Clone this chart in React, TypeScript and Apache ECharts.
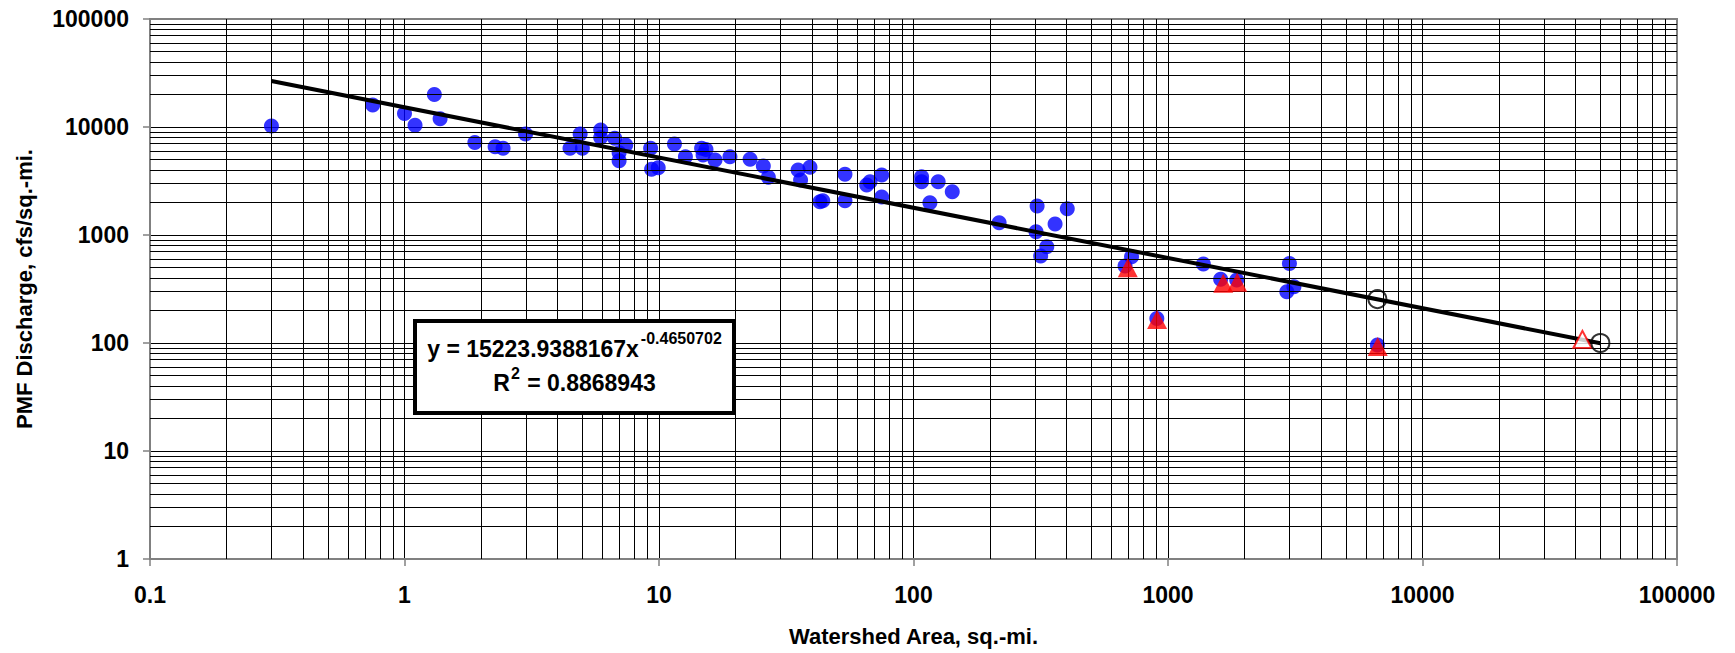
import React, { useEffect, useRef } from 'react';
import * as echarts from 'echarts';

// Watershed area (sq.-mi.) vs PMF discharge (cfs/sq.-mi.)
const blueData: [number, number][] = [
  [0.3, 10200], [0.75, 16000], [1.0, 13300], [1.1, 10400], [1.31, 20000], [1.38, 11900],
  [1.89, 7200], [2.27, 6550], [2.44, 6350], [2.99, 8600], [4.47, 6350], [4.9, 8600],
  [5.0, 6350], [5.9, 9400], [5.9, 8000], [6.7, 7850], [7.4, 6800], [6.97, 5780],
  [6.97, 4870], [9.27, 6350], [9.35, 4060], [9.93, 4200], [11.5, 6970], [12.7, 5300],
  [14.7, 6350], [15.3, 6200], [14.9, 5500], [16.6, 4950], [19.0, 5300], [22.8, 5030],
  [25.7, 4350], [26.9, 3420], [35.2, 4000], [36.0, 3230], [39.2, 4240], [42.9, 2030],
  [44.0, 2080], [53.8, 3650], [53.8, 2080], [65.5, 2900], [67.5, 3120], [75, 3590],
  [75, 2250], [107.6, 3470], [107.6, 3120], [125, 3120], [116, 1990], [142, 2520],
  [217, 1300], [306, 1860], [303, 1070], [360, 1265], [402, 1750], [334, 780],
  [316, 640], [719, 630], [678, 516], [1377, 540], [1610, 389], [1862, 383],
  [904, 169], [3000, 545], [3125, 332], [2930, 298], [6650, 96],
];
const redTriangles: [number, number][] = [
  [695, 497], [906, 165], [1648, 357], [1870, 365], [6670, 93],
];
const openTriangle: [number, number][] = [[42500, 108]];
const openCircles: [number, number][] = [[6650, 255], [50000, 100]];
const trendLine: [number, number][] = [[0.3, 26650], [50000, 99.35]];

const xDecades = [0.1, 1, 10, 100, 1000, 10000];
const yDecades = [1, 10, 100, 1000, 10000];
const minorMultipliers = [2, 3, 4, 5, 6, 7, 8, 9];

const eqMain = 'y = 15223.9388167x';
const eqExp = '-0.4650702';
const r2Lead = 'R';
const r2Exp = '2';
const r2Rest = ' = 0.8868943';

const FONT = '"Liberation Sans", Arial, Helvetica, sans-serif';

const fmt = (v: number) => {
  const n = Number(v);
  if (n < 1) return String(Number(n.toPrecision(3)));
  return String(Math.round(n));
};

const txt = (text: string, x: number, y: number, size: number) => ({
  type: 'text', z: 101, x, y,
  style: {
    text, fill: '#000',
    align: 'left', verticalAlign: 'middle',
    textAlign: 'left', textVerticalAlign: 'middle',
    fontFamily: FONT, fontWeight: 'bold', fontSize: size,
    font: `bold ${size}px ${FONT}`,
  },
});

export default function App() {
  const ref = useRef<HTMLDivElement>(null);
  useEffect(() => {
    if (!ref.current) return;
    const chart = echarts.init(ref.current, undefined, { renderer: 'svg' });
    const gridLines: any[] = [];
    xDecades.forEach((d) => minorMultipliers.forEach((m) => gridLines.push({ xAxis: d * m })));
    yDecades.forEach((d) => minorMultipliers.forEach((m) => gridLines.push({ yAxis: d * m })));

    const labelStyle = { fontSize: 23, fontWeight: 'bold' as const, color: '#000', fontFamily: FONT };
    const nameStyle = { fontSize: 22, fontWeight: 'bold' as const, color: '#000', fontFamily: FONT };

    // text widths (Arial/Liberation Sans Bold metrics) for centring the equation in the box
    const big = 23;
    const small = 16;
    const boxCx = 574.5;
    const w1 = 9.202 * big;
    const w1s = 5.059 * small;
    const start1 = boxCx - (w1 + 2 + w1s) / 2;
    const wR = 0.722 * big;
    const w2s = 0.556 * small;
    const wRest = 5.866 * big;
    const start2 = boxCx - (wR + 1 + w2s + 1 + wRest) / 2;

    chart.setOption({
      animation: false,
      backgroundColor: '#fff',
      grid: {
        left: 150, right: 58, top: 19, bottom: 94,
        show: true, borderColor: '#808080', borderWidth: 2, backgroundColor: '#fff',
      },
      xAxis: {
        type: 'log', logBase: 10, min: 0.1, max: 100000,
        name: 'Watershed Area, sq.-mi.', nameLocation: 'middle', nameGap: 66,
        nameTextStyle: nameStyle,
        axisLine: { show: true, lineStyle: { color: '#808080', width: 2 } },
        axisTick: { show: true, length: 7, lineStyle: { color: '#808080', width: 1.5 } },
        axisLabel: { ...labelStyle, margin: 24, formatter: fmt },
        splitLine: { show: true, showMinLine: false, showMaxLine: false, lineStyle: { color: '#000', width: 1 } },
      },
      yAxis: {
        type: 'log', logBase: 10, min: 1, max: 100000,
        name: 'PMF Discharge, cfs/sq.-mi.', nameLocation: 'middle', nameGap: 115,
        nameTextStyle: nameStyle,
        axisLine: { show: true, lineStyle: { color: '#808080', width: 2 } },
        axisTick: { show: true, length: 7, lineStyle: { color: '#808080', width: 1.5 } },
        axisLabel: { ...labelStyle, margin: 21, formatter: fmt },
        splitLine: { show: true, showMinLine: false, showMaxLine: false, lineStyle: { color: '#000', width: 1 } },
      },
      series: [
        {
          type: 'scatter', data: [], z: 1, silent: true,
          markLine: {
            silent: true, symbol: ['none', 'none'], animation: false,
            label: { show: false },
            lineStyle: { color: '#000', width: 1, type: 'solid' },
            emphasis: { disabled: true },
            data: gridLines,
          },
        },
        {
          type: 'scatter', data: blueData, symbol: 'circle', symbolSize: 15, z: 3,
          itemStyle: { color: '#0000ff' },
        },
        {
          type: 'line', data: trendLine, symbol: 'none', z: 4,
          lineStyle: { color: '#000', width: 4 },
        },
        {
          type: 'scatter', data: redTriangles, symbol: 'triangle', symbolSize: [20, 19], z: 5,
          itemStyle: { color: '#ff0000' },
        },
        {
          type: 'scatter', data: openTriangle, symbol: 'triangle', symbolSize: [18, 17], z: 5,
          itemStyle: { color: '#fff', borderColor: '#ff0000', borderWidth: 2 },
        },
        {
          type: 'scatter', data: openCircles, symbol: 'circle', symbolSize: 18, z: 6,
          itemStyle: { color: 'rgba(0,0,0,0)', borderColor: '#000', borderWidth: 2 },
        },
      ],
      graphic: [
        {
          type: 'rect', z: 100,
          shape: { x: 415, y: 321, width: 319, height: 92 },
          style: { fill: '#fff', stroke: '#000', lineWidth: 4 },
        },
        txt(eqMain, start1, 349, big),
        txt(eqExp, start1 + w1 + 2, 338, small),
        txt(r2Lead, start2, 383, big),
        txt(r2Exp, start2 + wR + 1, 373, small),
        txt(r2Rest, start2 + wR + 1 + w2s + 1, 383, big),
      ],
    });
    return () => chart.dispose();
  }, []);
  return (
    <div
      ref={ref}
      style={{ position: 'absolute', left: 0, top: 0, width: 1735, height: 653, background: '#fff' }}
    />
  );
}
